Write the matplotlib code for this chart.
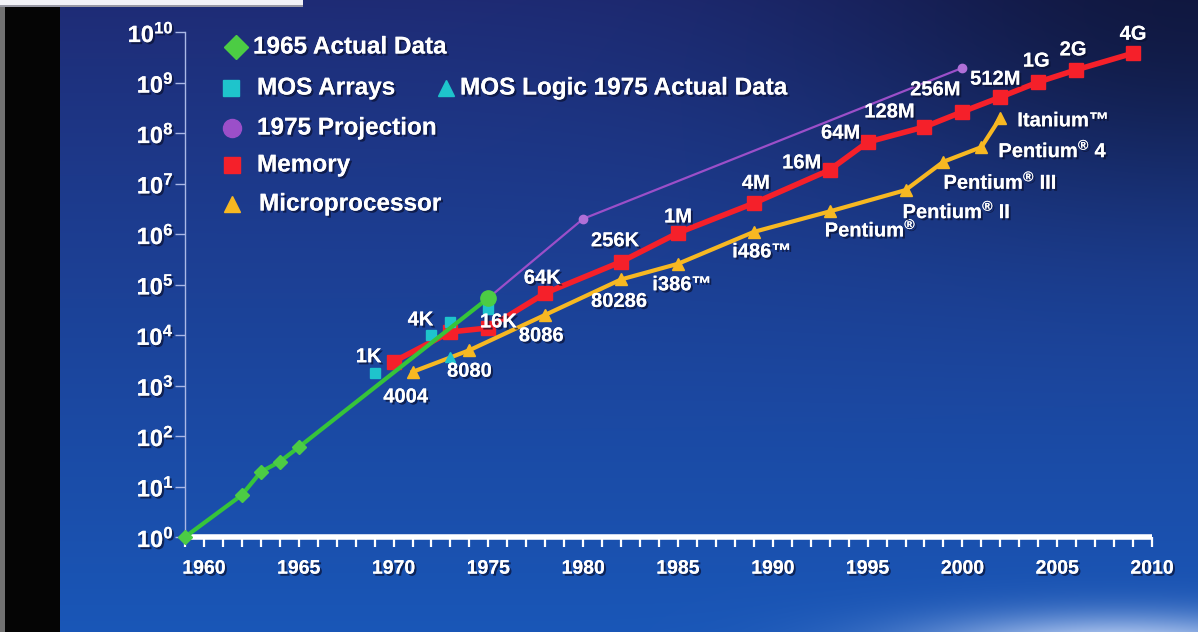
import numpy as np
import matplotlib
matplotlib.use("Agg")
import matplotlib.pyplot as plt
import matplotlib.patheffects as pe
from matplotlib.ticker import FixedLocator, MultipleLocator, NullFormatter

plt.rcParams['font.family'] = ['Liberation Sans', 'DejaVu Sans']
plt.rcParams['font.weight'] = 'bold'
plt.rcParams['mathtext.fontset'] = 'custom'
plt.rcParams['mathtext.rm'] = 'Liberation Sans:bold'
plt.rcParams['mathtext.bf'] = 'Liberation Sans:bold'
plt.rcParams['mathtext.it'] = 'Liberation Sans:bold'

# Data (transistors per chip)
moore_years = [1959, 1962, 1963, 1964, 1965, 1975]
moore_counts = [1, 6.8, 19.5, 31, 60, 5.4e4]

mos_array_years = [1969, 1972, 1973, 1975]
mos_array_counts = [1800, 1.0e4, 1.8e4, 3.2e4]

mos_logic_years = [1973]
mos_logic_counts = [3600]

proj_years = [1975, 1980, 2000]
proj_counts = [5.4e4, 2.0e6, 1.95e9]

mem_years = [1970, 1973, 1975, 1978, 1982, 1985, 1989, 1993, 1995, 1998,
             2000, 2002, 2004, 2006, 2009]
mem_counts = [2950, 1.15e4, 1.38e4, 6.76e4, 2.82e5, 1.05e6, 4.07e6, 1.86e7,
              6.6e7, 1.32e8, 2.63e8, 5.13e8, 1.02e9, 1.78e9, 3.8e9]
mem_labels = ['1K', '4K', '16K', '64K', '256K', '1M', '4M', '16M', '64M',
              '128M', '256M', '512M', '1G', '2G', '4G']

cpu_years = [1971, 1974, 1978, 1982, 1985, 1989, 1993, 1997, 1999, 2001, 2002]
cpu_counts = [1860, 5000, 2.51e4, 1.26e5, 2.57e5, 1.1e6, 2.8e6, 7.4e6,
              2.7e7, 5.25e7, 2.0e8]
cpu_labels = ['4004', '8080', '8086', '80286', 'i386™', 'i486™',
              'Pentium$^{®}$', 'Pentium$^{®}$ II', 'Pentium$^{®}$ III',
              'Pentium$^{®}$ 4', 'Itanium™']

x_ticks = [1960, 1965, 1970, 1975, 1980, 1985, 1990, 1995, 2000, 2005, 2010]
y_exps = list(range(0, 11))

# label placement (pixel offsets from the point)
mem_offsets = [(-25, 5), (-30, 12), (10, 6), (-3, 15), (-6, 21), (0, 16),
               (2, 20), (-28, 7), (-27, 9), (-35, 15), (-27, 22), (-5, 18),
               (-2, 21), (-3, 20), (0, 19)]
cpu_offsets = [(-7, -25), (0, -21), (-4, -21), (-2, -22), (4, -21), (8, -20),
               (-5, -18), (-3, -21), (0, -20), (17, -3), (17, -3)]
cpu_ha = ['center'] * 6 + ['left'] * 5

W, H = 1198, 632
fig = plt.figure(figsize=(W / 100, H / 100), dpi=100)

# slide background
bg = fig.add_axes([0, 0, 1, 1], zorder=0)
yy, xx = np.mgrid[0:H, 0:W]
t = (yy / H) ** 0.9
top = np.array([0.12, 0.17, 0.46])
bot = np.array([0.10, 0.34, 0.72])
img = top[None, None, :] * (1 - t[..., None]) + bot[None, None, :] * t[..., None]
dark = np.exp(-(((xx - 1198) / 380.0) ** 2 + ((yy - 0) / 200.0) ** 2))
img = img * (1 - 0.45 * dark[..., None])
glow = np.exp(-(((xx - 1120) / 200.0) ** 2 + ((yy - 650) / 35.0) ** 2))
img = img + (np.array([0.85, 0.9, 1.0]) - img) * glow[..., None] * 0.9
img[:, :60] = 0.02
img[:, :5] = 0.45
img[:6, :303] = [0.95, 0.95, 0.97]
img[5:7, :303] = [0.6, 0.6, 0.65]
bg.imshow(np.clip(img, 0, 1), extent=[0, W, H, 0], aspect='auto')
bg.axis('off')

ax = fig.add_axes([185 / W, 1 - 537 / H, 967 / W, 505 / H], zorder=1)
ax.patch.set_alpha(0)
ax.set_yscale('log')
ax.set_xlim(1959, 2010)
ax.set_ylim(1, 1e10)

shadow = [pe.withSimplePatchShadow(offset=(1.5, -1.5), shadow_rgbFace='#0a1030', alpha=0.7),
          pe.Normal()]

# series
ax.plot(proj_years, proj_counts, color='#9b4fc9', lw=1.6, marker='o', ms=6,
        mec='#b070d8', mfc='#b070d8', zorder=3, clip_on=False)
ax.plot(moore_years, moore_counts, color='#36c43a', lw=3, zorder=6, clip_on=False)
ax.plot(moore_years[:-1], moore_counts[:-1], ls='none', marker='D', ms=7,
        color='#4ccc44', zorder=7, clip_on=False)
ax.plot(moore_years[-1:], moore_counts[-1:], ls='none', marker='o', ms=11,
        color='#4ccc44', zorder=7, clip_on=False)
ax.plot(mos_array_years, mos_array_counts, ls='none', marker='s', ms=7.5,
        color='#1ec4cc', zorder=5)
ax.plot(mos_logic_years, mos_logic_counts, ls='none', marker='^', ms=7.5,
        color='#1ec4cc', zorder=5)
ax.plot(mem_years, mem_counts, color='#f5202a', lw=4, marker='s', ms=9.5,
        zorder=4, clip_on=False)
ax.plot(cpu_years, cpu_counts, color='#f7b822', lw=3, marker='^', ms=8,
        zorder=4, clip_on=False)

for yr, val, lab, off in zip(mem_years, mem_counts, mem_labels, mem_offsets):
    ax.annotate(lab, (yr, val), xytext=off, textcoords='offset pixels',
                ha='center', va='center', color='white', fontsize=14.5,
                fontweight='bold', path_effects=shadow, zorder=8)
for yr, val, lab, off, ha in zip(cpu_years, cpu_counts, cpu_labels, cpu_offsets, cpu_ha):
    ax.annotate(lab, (yr, val), xytext=off, textcoords='offset pixels',
                ha=ha, va='center', color='white', fontsize=14.5,
                fontweight='bold', path_effects=shadow, zorder=8)

# axes styling
for s in ['top', 'right']:
    ax.spines[s].set_visible(False)
ax.spines['bottom'].set_color('white')
ax.spines['bottom'].set_linewidth(4)
ax.spines['bottom'].set_capstyle('butt')
ax.spines['left'].set_color('#aab8e6')
ax.spines['left'].set_linewidth(1)

ax.xaxis.set_major_locator(FixedLocator(x_ticks))
ax.xaxis.set_minor_locator(MultipleLocator(1))
ax.xaxis.set_minor_formatter(NullFormatter())
ax.tick_params(axis='x', which='both', direction='out', length=7, width=1.6,
               color='white', labelcolor='white', labelsize=14, pad=10)
ax.yaxis.set_major_locator(FixedLocator([10.0 ** e for e in y_exps]))
ax.yaxis.set_minor_locator(FixedLocator([]))
ax.set_yticklabels([r'$\mathbf{10^{%d}}$' % e for e in y_exps])
ax.tick_params(axis='y', which='major', direction='out', length=7, width=1,
               color='#aab8e6', labelcolor='white', labelsize=17, pad=1)
for lab in ax.get_xticklabels() + ax.get_yticklabels():
    lab.set_fontweight('bold')
    lab.set_path_effects(shadow)

# legend drawn on the slide
def fxy(px, py):
    return px / W, 1 - py / H

legend_rows = [
    ('D', '#4ccc44', 236, 47, '1965 Actual Data', 253),
    ('s', '#1ec4cc', 231, 88, 'MOS Arrays', 257),
    ('^', '#1ec4cc', 446, 88, 'MOS Logic 1975 Actual Data', 460),
    ('o', '#9b4fc9', 232, 128, '1975 Projection', 257),
    ('s', '#f5202a', 232, 165, 'Memory', 257),
    ('^', '#f7b822', 232, 204, 'Microprocessor', 259),
]
for mk, col, mx, my, txt, tx in legend_rows:
    fx, fy = fxy(mx, my)
    fig.add_artist(plt.Line2D([fx], [fy], marker=mk, ms=12 if mk != 'o' else 13,
                              color=col, mec=col, ls='none', zorder=9,
                              transform=fig.transFigure))
    tfx, tfy = fxy(tx, my)
    fig.text(tfx, tfy, txt, color='white', fontsize=17.5, fontweight='bold',
             ha='left', va='center', path_effects=shadow, zorder=9)

fig.savefig('out.png', dpi=100)
